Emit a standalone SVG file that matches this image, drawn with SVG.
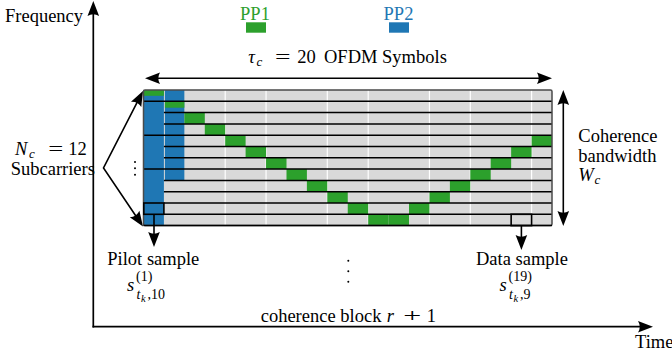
<svg xmlns="http://www.w3.org/2000/svg" width="672" height="360" viewBox="0 0 672 360" font-family="'Liberation Serif','Times New Roman',serif">
<style>
text{font-family:'Liberation Serif','Times New Roman',serif;font-size:18.5px;fill:#000}
.it{font-style:italic}
.sc{font-size:14px}
.ss{font-size:10.5px}
.sub{font-size:13px;font-style:italic}
.ln{stroke:#000;stroke-width:1.6;fill:none}
.ax{stroke:#000;stroke-width:1.7;fill:none}
.hl{stroke:#000;stroke-width:1.5}
.wl{stroke:#fff;stroke-width:1.2}
.g{fill:#2ca02c}
.b{fill:#1f77b4}
.box{fill:none;stroke:#000;stroke-width:1.6}
</style>
<defs>
<marker id="ah" viewBox="-6 -7 17 14" refX="0" refY="0" markerWidth="17" markerHeight="14" markerUnits="userSpaceOnUse" orient="auto-start-reverse">
<path d="M10,0 L-5,-5.8 Q-1.5,0 -5,5.8 Z" fill="#000"/>
</marker>
</defs>

<g id="axes">
<line class="ax" x1="93.3" y1="327.5" x2="93.3" y2="11" marker-end="url(#ah)"/>
<line class="ax" x1="92.5" y1="326.7" x2="643" y2="326.7" marker-end="url(#ah)"/>
<text x="5" y="21.5">Frequency</text>
<text x="635" y="348">Time</text>
</g>

<g id="legend">
<text x="255" y="19.5" text-anchor="middle" style="fill:#2ca02c">PP1</text>
<rect class="g" x="246" y="22.3" width="20" height="10.4"/>
<text x="398.5" y="19.5" text-anchor="middle" style="fill:#1f77b4">PP2</text>
<rect class="b" x="389" y="22.3" width="20" height="10.4"/>
</g>

<g id="grid">
<rect x="143.5" y="90" width="408.5" height="135.6" fill="#d9d9d9"/>
<g class="wl">
<line x1="225.2" y1="90" x2="225.2" y2="225.6"/>
<line x1="266.05" y1="90" x2="266.05" y2="225.6"/>
<line x1="327.3" y1="90" x2="327.3" y2="225.6"/>
<line x1="368.2" y1="90" x2="368.2" y2="225.6"/>
<line x1="429.45" y1="90" x2="429.45" y2="225.6"/>
<line x1="470.3" y1="90" x2="470.3" y2="225.6"/>
<line x1="531.6" y1="90" x2="531.6" y2="225.6"/>
</g>
<rect class="b" x="143.5" y="90" width="20.4" height="135.6"/>
<rect class="b" x="164.9" y="90" width="19.45" height="90.4"/>
<rect class="g" x="143.5" y="90" width="20.4" height="5.8"/>
<rect class="g" x="164.9" y="101.3" width="19.45" height="6.4"/>
<g class="g">
<rect x="184.35" y="112.6" width="20.45" height="11.3"/>
<rect x="204.8" y="123.9" width="20.4" height="11.3"/>
<rect x="225.2" y="135.2" width="20.4" height="11.3"/>
<rect x="245.6" y="146.5" width="20.45" height="11.3"/>
<rect x="266.05" y="157.8" width="20.45" height="11.3"/>
<rect x="286.5" y="169.1" width="20.4" height="11.3"/>
<rect x="306.9" y="180.4" width="20.4" height="11.3"/>
<rect x="327.3" y="191.7" width="20.45" height="11.3"/>
<rect x="347.75" y="203" width="20.45" height="11.3"/>
<rect x="368.2" y="214.3" width="20.4" height="11.3"/>
<rect x="388.6" y="214.3" width="20.4" height="11.3"/>
<rect x="409" y="203" width="20.45" height="11.3"/>
<rect x="429.45" y="191.7" width="20.45" height="11.3"/>
<rect x="449.9" y="180.4" width="20.4" height="11.3"/>
<rect x="470.3" y="169.1" width="20.4" height="11.3"/>
<rect x="490.7" y="157.8" width="20.45" height="11.3"/>
<rect x="511.15" y="146.5" width="20.45" height="11.3"/>
<rect x="531.6" y="135.2" width="20.4" height="11.3"/>
</g>
<g class="hl">
<line x1="143.5" y1="101.3" x2="552" y2="101.3"/>
<line x1="163.9" y1="112.6" x2="552" y2="112.6"/>
<line x1="163.9" y1="123.9" x2="552" y2="123.9"/>
<line x1="143.5" y1="135.2" x2="552" y2="135.2"/>
<line x1="163.9" y1="146.5" x2="552" y2="146.5"/>
<line x1="163.9" y1="157.8" x2="552" y2="157.8"/>
<line x1="143.5" y1="169.1" x2="552" y2="169.1"/>
<line x1="163.9" y1="180.4" x2="552" y2="180.4"/>
<line x1="163.9" y1="191.7" x2="552" y2="191.7"/>
<line x1="163.9" y1="203" x2="552" y2="203"/>
<line x1="163.9" y1="214.3" x2="552" y2="214.3"/>
</g>
<rect x="143.5" y="90" width="408.5" height="135.6" rx="1.5" fill="none" stroke="#4a4a4a" stroke-width="1.5"/>
<line x1="143.5" y1="225.6" x2="552" y2="225.6" stroke="#000" stroke-width="1.5"/>
<rect id="pilot-box" class="box" x="143.8" y="203" width="20.1" height="11.3"/>
<rect id="data-box" class="box" x="511.15" y="214.3" width="20.45" height="11.3"/>
</g>

<g id="tau-label">
<text x="248.3" y="63"><tspan class="it">τ</tspan><tspan class="sub" x="256.5" dy="3">c</tspan><tspan x="275" dy="-3" textLength="15.5" lengthAdjust="spacingAndGlyphs">=</tspan><tspan x="297.3">20</tspan><tspan x="324">OFDM Symbols</tspan></text>
</g>

<g id="nc-label">
<text x="15" y="155"><tspan class="it">N</tspan><tspan class="sub" x="29" dy="2.5">c</tspan><tspan x="48.3" dy="-2.5" textLength="15" lengthAdjust="spacingAndGlyphs">=</tspan><tspan x="68.3">12</tspan></text>
<text x="10.7" y="175">Subcarriers</text>
<circle cx="135" cy="162" r="1"/>
<circle cx="135" cy="168.3" r="1"/>
<circle cx="135" cy="174.8" r="1"/>
</g>

<g id="wc-label">
<text x="578.3" y="142">Coherence</text>
<text x="578.3" y="162.3">bandwidth</text>
<text x="578.3" y="180.5"><tspan class="it">W</tspan><tspan class="sub" x="594.5" dy="3">c</tspan></text>
</g>

<g id="pilot-label">
<text x="107.3" y="265">Pilot sample</text>
<text x="127" y="291"><tspan class="it">s</tspan><tspan class="sc" x="136" y="281">(1)</tspan><tspan class="it sc" x="136.5" y="298.5">t</tspan><tspan class="it ss" x="141" y="302">k</tspan><tspan class="sc" x="147.5" y="298.5">,10</tspan></text>
</g>

<g id="data-label">
<text x="476" y="265">Data sample</text>
<text x="499.5" y="291"><tspan class="it">s</tspan><tspan class="sc" x="508.5" y="281">(19)</tspan><tspan class="it sc" x="509" y="298.5">t</tspan><tspan class="it ss" x="513.5" y="302">k</tspan><tspan class="sc" x="520" y="298.5">,9</tspan></text>
</g>

<g id="block-label">
<text x="260.7" y="321.7">coherence block <tspan class="it" x="386.7">r</tspan><tspan x="403.3" textLength="18" lengthAdjust="spacingAndGlyphs">+</tspan><tspan x="426.7">1</tspan></text>
<circle cx="348.3" cy="260.7" r="1"/>
<circle cx="348.3" cy="271.2" r="1"/>
<circle cx="348.3" cy="281.8" r="1"/>
</g>

<g id="connectors">
<line class="ln" x1="155" y1="78.3" x2="542" y2="78.3" marker-start="url(#ah)" marker-end="url(#ah)"/>
<line class="ln" x1="563.3" y1="100" x2="563.3" y2="216" marker-start="url(#ah)" marker-end="url(#ah)"/>
<polyline class="ln" points="138.4,99.9 103.5,168 137.4,218.2" marker-start="url(#ah)" marker-end="url(#ah)"/>
<line class="ln" x1="154" y1="214.3" x2="154" y2="237" marker-end="url(#ah)"/>
<line class="ln" x1="521.4" y1="225.6" x2="521.4" y2="240" marker-end="url(#ah)"/>
</g>
</svg>
